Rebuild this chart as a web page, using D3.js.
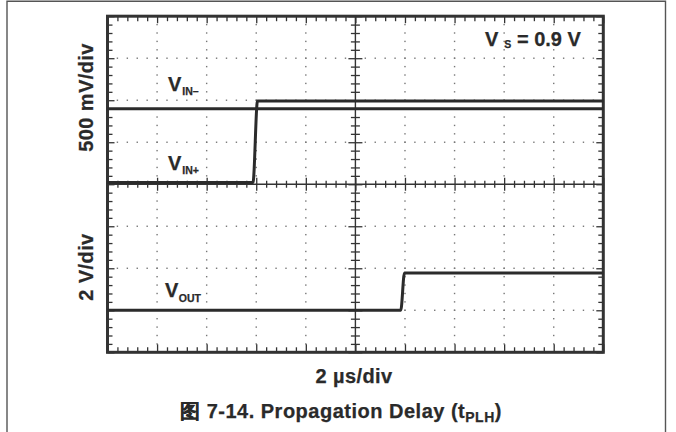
<!DOCTYPE html>
<html><head><meta charset="utf-8">
<script src="https://cdn.jsdelivr.net/npm/d3@7"></script>
<style>
body{margin:0;background:#fff}
text{font-family:"Liberation Sans",Arial,Helvetica,sans-serif;font-weight:bold;fill:#2a2a2a;stroke:#2a2a2a;stroke-width:0.25px}
</style>
</head><body>
<svg id="c" width="676" height="432"></svg>
<script>
// ---- data ----
const timeMajor = [0, 2, 4, 6, 8, 10, 12, 14, 16, 18, 20];          // µs, 2 µs/div
const vinTime = [0, 5.87, 6.05, 20];                                  // µs
const vinPlus = [0.022, 0.022, 0.99, 0.99];                           // V (500 mV/div)
const vinMinusTime = [0, 20];
const vinMinus = [0.9, 0.9];                                          // V
const voutTime = [0, 11.83, 11.98, 20];                               // µs
const vout = [0, 0, 1.78, 1.78];                                      // V (2 V/div)
const divRange = [-4, -3, -2, -1, 0, 1, 2, 3, 4];                     // vertical divisions
const vinDomain = [0, 2];       // top half: 4 div x 500 mV
const voutDomain = [-2, 6];     // bottom half: 4 div x 2 V
const labelsText = { topAxis: "500 mV/div", bottomAxis: "2 V/div", xAxis: "2 µs/div",
  caption: "图 7-14. Propagation Delay (t", captionSub: "PLH", captionEnd: ")" };

// ---- layout ----
const L = 107.5, T = 16.2, W = 495.8, H = 336.1;
const svg = d3.select("#c");

// outer figure border
svg.append("path").attr("d", "M7,440 V1.2 H665.5 V440")
  .attr("fill", "none").attr("stroke", "#555").attr("stroke-width", 1.4);

const x = d3.scaleLinear().domain([0, 20]).range([L, L + W]);
const yDiv = d3.scaleLinear().domain([-4, 4]).range([T + H, T]);
const yTop = d3.scaleLinear().domain(vinDomain).range([yDiv(0), yDiv(4)]);
const yBot = d3.scaleLinear().domain(voutDomain).range([yDiv(-4), yDiv(0)]);

const xMinor = d3.range(0, 20.0001, 0.4);
const yMinor = d3.range(-4, 4.0001, 0.2);

// dotted gridlines
const g = svg.append("g");
const dotCol = "#777";
timeMajor.filter(t => t !== 0 && t !== 10 && t !== 20).forEach(t => {
  g.selectAll(null).data(yMinor.filter(d => Math.abs(d) > 0.01 && Math.abs(Math.abs(d) - 4) > 0.01))
    .join("rect").attr("x", x(t) - 0.7).attr("y", d => yDiv(d) - 0.7)
    .attr("width", 1.4).attr("height", 1.4).attr("fill", dotCol);
});
divRange.filter(d => d !== 0 && Math.abs(d) !== 4).forEach(dv => {
  g.selectAll(null).data(xMinor.filter(t => Math.abs(t - 10) > 0.01 && t > 0.01 && t < 19.99))
    .join("rect").attr("x", t => x(t) - 0.7).attr("y", yDiv(dv) - 0.7)
    .attr("width", 1.4).attr("height", 1.4).attr("fill", dotCol);
});

// tick helpers using d3 axes
function ticksAxis(axisFn, scale, vals, size, tx, ty) {
  const a = svg.append("g").attr("transform", `translate(${tx},${ty})`)
    .call(axisFn(scale).tickValues(vals).tickSize(size).tickFormat(""));
  a.select(".domain").remove();
  a.selectAll("line").attr("stroke", "#333").attr("stroke-width", 1.3);
  return a;
}
const isMajorT = t => Math.abs(t / 2 - Math.round(t / 2)) < 0.01;
const isMajorD = d => Math.abs(d - Math.round(d)) < 0.01;
const xMinorOnly = xMinor.filter(t => !isMajorT(t));
const yMinorOnly = yMinor.filter(d => !isMajorD(d));

// frame edge ticks (inward)
ticksAxis(d3.axisBottom, x, xMinorOnly, 5, 0, T);
ticksAxis(d3.axisBottom, x, timeMajor, 7, 0, T);
ticksAxis(d3.axisTop, x, xMinorOnly, 5, 0, T + H);
ticksAxis(d3.axisTop, x, timeMajor, 8, 0, T + H);
ticksAxis(d3.axisRight, yDiv, yMinorOnly, 5, L, 0);
ticksAxis(d3.axisRight, yDiv, divRange, 7, L, 0);
ticksAxis(d3.axisLeft, yDiv, yMinorOnly, 5, L + W, 0);
ticksAxis(d3.axisLeft, yDiv, divRange, 7, L + W, 0);

// center axes with +- ticks
svg.append("line").attr("x1", L).attr("x2", L + W).attr("y1", yDiv(0)).attr("y2", yDiv(0))
  .attr("stroke", "#333").attr("stroke-width", 1.4);
svg.append("line").attr("x1", x(10)).attr("x2", x(10)).attr("y1", T).attr("y2", T + H)
  .attr("stroke", "#333").attr("stroke-width", 1.4);
ticksAxis(d3.axisBottom, x, xMinorOnly, 7, 0, yDiv(0) - 3.5);
ticksAxis(d3.axisBottom, x, timeMajor, 13, 0, yDiv(0) - 6.5);
ticksAxis(d3.axisRight, yDiv, yMinorOnly, 9, x(10) - 4.5, 0);
ticksAxis(d3.axisRight, yDiv, divRange, 14, x(10) - 7, 0);

// frame
svg.append("rect").attr("x", L).attr("y", T).attr("width", W).attr("height", H)
  .attr("fill", "none").attr("stroke", "#333").attr("stroke-width", 3);

// traces
const traceCol = "#2b2b2b";
function trace(ts, vs, ys) {
  const line = d3.line().x((d, i) => x(ts[i])).y((d, i) => ys(vs[i])).curve(d3.curveMonotoneX);
  svg.append("path").attr("d", line(vs)).attr("fill", "none")
    .attr("stroke", traceCol).attr("stroke-width", 3).attr("stroke-linejoin", "round");
}
trace(vinMinusTime, vinMinus, yTop);
trace(vinTime, vinPlus, yTop);
trace(voutTime, vout, yBot);

// labels with subscripts
function subLabel(xp, yp, main, sub, rest, subDy, subDx) {
  const t = svg.append("text").attr("x", xp).attr("y", yp).style("font-size", "20px");
  t.append("tspan").text(main);
  t.append("tspan").attr("dx", subDx).attr("dy", subDy).style("font-size", "10.5px").text(sub);
  if (rest) t.append("tspan").attr("dy", -subDy).text(rest);
}
subLabel(168, 90.7, "V", "IN–", null, 4.5, 1);
subLabel(168, 170, "V", "IN+", null, 4, 1);
subLabel(165, 296.7, "V", "OUT", null, 5, 0.5);
subLabel(485, 46, "V", "S", " = 0.9 V", 1.5, 6);

// axis titles
svg.append("text").attr("transform", "translate(93,97.5) rotate(-90)")
  .attr("text-anchor", "middle").style("font-size", "20px").style("letter-spacing", "0.4px")
  .text(labelsText.topAxis);
svg.append("text").attr("transform", "translate(93,267) rotate(-90)")
  .attr("text-anchor", "middle").style("font-size", "20px").style("letter-spacing", "0.4px")
  .text(labelsText.bottomAxis);
svg.append("text").attr("x", 354).attr("y", 383.3).attr("text-anchor", "middle")
  .style("font-size", "20px").style("letter-spacing", "0.4px").text(labelsText.xAxis);

// caption
const cap = svg.append("text").attr("x", 341).attr("y", 417.7).attr("text-anchor", "middle")
  .style("font-size", "20px").style("letter-spacing", "0.5px");
cap.append("tspan").text(labelsText.caption);
cap.append("tspan").attr("dy", 4).style("font-size", "14px").text(labelsText.captionSub);
cap.append("tspan").attr("dy", -4).text(labelsText.captionEnd);
</script>
</body></html>
